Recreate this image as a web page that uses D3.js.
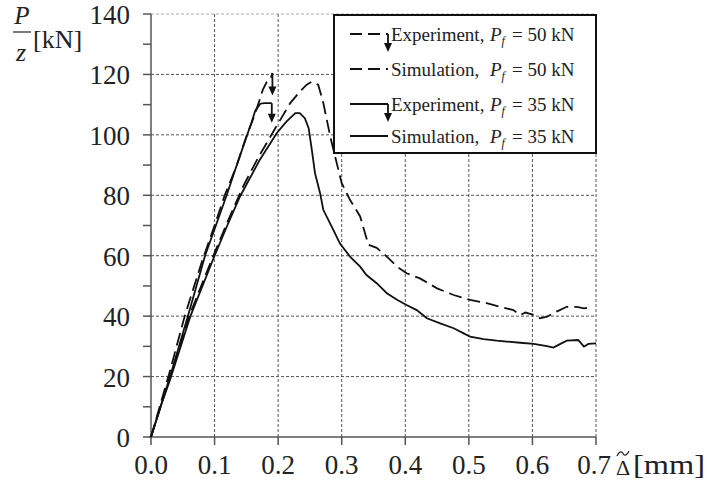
<!DOCTYPE html>
<html>
<head>
<meta charset="UTF-8">
<script src="https://d3js.org/d3.v7.min.js"></script>
<style>
  body { margin: 0; background: #fff; }
  svg { display: block; font-family: "Liberation Serif", "Times New Roman", serif; }
  .grid line { stroke: #555; stroke-width: 1; stroke-dasharray: 3,2; }
  .curve { fill: none; stroke: #111; stroke-width: 1.8; }
  .dashed { stroke-dasharray: 13,6; }
</style>
</head>
<body>
<svg width="707" height="496"></svg>
<script>
// --- data ---
const exp50X = [0, 0.015, 0.03, 0.053, 0.08, 0.1, 0.116, 0.135, 0.151, 0.162, 0.17, 0.176, 0.182, 0.188, 0.191];
const exp50Y = [0, 11, 22, 40, 58, 70, 80, 90, 100, 106, 111, 115, 117.5, 118.5, 120.5];

const exp35X = [0, 0.015, 0.03, 0.058, 0.085, 0.119, 0.135, 0.148, 0.158, 0.164, 0.172, 0.178, 0.19];
const exp35Y = [0, 10, 20, 40, 60, 80, 90, 98, 104, 108, 110.3, 110.5, 110.5];

const sim50X = [0, 0.015, 0.03, 0.06, 0.098, 0.12, 0.145, 0.17, 0.195, 0.219, 0.235, 0.245, 0.253, 0.263, 0.271, 0.282, 0.29, 0.3, 0.313, 0.329, 0.342, 0.355, 0.371, 0.387, 0.402, 0.423, 0.45, 0.476, 0.502, 0.528, 0.549, 0.57, 0.581, 0.589, 0.602, 0.612, 0.623, 0.638, 0.654, 0.67, 0.681, 0.691];
const sim50Y = [0, 10, 20, 40, 60, 71, 83, 93, 102, 110.5, 114.5, 116.6, 117.6, 116.6, 110.6, 99.4, 92.5, 84, 78.5, 73, 63.6, 62.6, 59.7, 56.4, 54.2, 52.5, 49.2, 47, 45.4, 44.3, 43.1, 42, 40.4, 41.2, 40.4, 39.3, 39.8, 41.5, 43.1, 43.1, 42.6, 42.9];

const sim35X = [0, 0.015, 0.03, 0.062, 0.1, 0.12, 0.14, 0.171, 0.198, 0.213, 0.227, 0.234, 0.242, 0.248, 0.253, 0.258, 0.266, 0.271, 0.287, 0.297, 0.313, 0.329, 0.339, 0.355, 0.371, 0.387, 0.402, 0.418, 0.434, 0.455, 0.476, 0.492, 0.502, 0.523, 0.544, 0.56, 0.581, 0.602, 0.623, 0.633, 0.641, 0.654, 0.672, 0.681, 0.688, 0.7];
const sim35Y = [0, 10, 19, 40, 60, 70, 79.6, 91.7, 100.6, 104.4, 107.2, 107.2, 105.5, 102.2, 95, 87.3, 80.7, 75.2, 68.5, 64.1, 59.7, 56.4, 53.6, 50.9, 47.6, 45.4, 43.7, 42, 39.3, 37.6, 36, 34.3, 33.2, 32.4, 31.9, 31.6, 31.2, 30.8, 30.1, 29.6, 30.5, 31.9, 32.1, 29.9, 30.8, 31];

// failure arrows at the end of the experiment curves: x, from, to
const arrowX = [0.191, 0.19];
const arrowFrom = [120.5, 110.5];
const arrowTo = [113, 104];

const xTicks = [0, 0.1, 0.2, 0.3, 0.4, 0.5, 0.6, 0.7];
const yTicks = [0, 20, 40, 60, 80, 100, 120, 140];
const yMinor = [0, 10, 20, 30, 40, 50, 60, 70, 80, 90, 100, 110, 120, 130, 140];

const legendLabels = ["Experiment,", "Simulation, ", "Experiment,", "Simulation, "];
const legendLoads = ["50", "50", "35", "35"];

// --- chart ---
const svg = d3.select("svg");
const x = d3.scaleLinear().domain([0, 0.7]).range([151, 596]);
const y = d3.scaleLinear().domain([0, 140]).range([437, 14]);

const grid = svg.append("g").attr("class", "grid");
grid.selectAll(".gx").data(xTicks.slice(1)).enter().append("line")
  .attr("x1", d => x(d)).attr("x2", d => x(d)).attr("y1", y(0)).attr("y2", y(140));
grid.selectAll(".gy").data(yTicks.slice(1)).enter().append("line")
  .attr("x1", x(0)).attr("x2", x(0.7)).attr("y1", d => y(d)).attr("y2", d => y(d))
  .style("stroke", d => d === 140 ? "#aaa" : null);

// axes
svg.append("line").attr("x1", x(0)).attr("x2", x(0)).attr("y1", y(0)).attr("y2", y(140))
  .attr("stroke", "#555").attr("stroke-width", 1.5);
svg.append("line").attr("x1", x(0) - 2).attr("x2", x(0.7)).attr("y1", y(0)).attr("y2", y(0))
  .attr("stroke", "#555").attr("stroke-width", 1.5);
svg.selectAll(".yt").data(yMinor).enter().append("line")
  .attr("x1", x(0) - 8).attr("x2", x(0)).attr("y1", d => y(d)).attr("y2", d => y(d))
  .attr("stroke", "#555").attr("stroke-width", 1.5);
svg.selectAll(".xt").data(xTicks).enter().append("line")
  .attr("x1", d => x(d)).attr("x2", d => x(d)).attr("y1", y(0)).attr("y2", y(0) + 8)
  .attr("stroke", "#555").attr("stroke-width", 1.5);

svg.selectAll(".yl").data(yTicks).enter().append("text")
  .attr("x", 130).attr("y", d => y(d) + 10)
  .attr("text-anchor", "end").attr("font-size", 27).attr("fill", "#222")
  .text(d => d);
svg.selectAll(".xl").data(xTicks).enter().append("text")
  .attr("x", d => x(d) - (d === 0.7 ? 2 : 0)).attr("y", 474)
  .attr("text-anchor", "middle").attr("font-size", 27).attr("fill", "#222")
  .text(d => d.toFixed(1));

// axis titles
const yt = svg.append("g").attr("fill", "#222");
yt.append("text").attr("x", 22).attr("y", 24).attr("text-anchor", "middle")
  .attr("font-size", 25).attr("font-style", "italic").text("P");
yt.append("line").attr("x1", 13).attr("x2", 31).attr("y1", 32).attr("y2", 32)
  .attr("stroke", "#222").attr("stroke-width", 1.2);
yt.append("text").attr("x", 21).attr("y", 61).attr("text-anchor", "middle")
  .attr("font-size", 26).attr("font-style", "italic").text("z");
yt.append("text").attr("x", 33).attr("y", 48).attr("font-size", 26).text("[kN]");

const xt = svg.append("g").attr("fill", "#222");
xt.append("text").attr("x", 623).attr("y", 475).attr("text-anchor", "middle")
  .attr("font-size", 22).text("Δ");
xt.append("path").attr("d", "M617,456 C619,451 622,451 623,453.5 C624,456 627,456 629,451")
  .attr("fill", "none").attr("stroke", "#222").attr("stroke-width", 1.2);
xt.append("text").attr("x", 633).attr("y", 474).attr("font-size", 28)
  .attr("textLength", 72).attr("lengthAdjust", "spacingAndGlyphs").text("[mm]");

// curves
const line = d3.line().x(d => x(d[0])).y(d => y(d[1]));
const series = [
  { xs: exp50X, ys: exp50Y, dashed: true },
  { xs: sim50X, ys: sim50Y, dashed: true },
  { xs: exp35X, ys: exp35Y, dashed: false },
  { xs: sim35X, ys: sim35Y, dashed: false }
];
series.forEach(s => {
  svg.append("path").attr("class", "curve" + (s.dashed ? " dashed" : ""))
    .attr("d", line(d3.zip(s.xs, s.ys)));
});

function arrow(px, y1, y2) {
  svg.append("line").attr("x1", px).attr("x2", px).attr("y1", y1).attr("y2", y2 - 7)
    .attr("stroke", "#111").attr("stroke-width", 1.8);
  svg.append("path").attr("d", `M${px - 4},${y2 - 9}L${px + 4},${y2 - 9}L${px},${y2}Z`)
    .attr("fill", "#111");
}
arrowX.forEach((ax, i) => arrow(x(ax), y(arrowFrom[i]), y(arrowTo[i])));

// legend
const lg = svg.append("g");
lg.append("rect").attr("x", 334).attr("y", 15).attr("width", 262).attr("height", 138)
  .attr("fill", "#fff").attr("stroke", "#111").attr("stroke-width", 2);
const rowLineY = [34, 69, 104, 136];
const rowTextY = [41, 76, 111, 143];
legendLabels.forEach((lab, i) => {
  const dashed = i < 2;
  lg.append("line").attr("x1", 350).attr("x2", 388).attr("y1", rowLineY[i]).attr("y2", rowLineY[i])
    .attr("stroke", "#111").attr("stroke-width", 1.8)
    .attr("stroke-dasharray", dashed ? "12,6" : null);
  if (i % 2 === 0) {
    lg.append("line").attr("x1", 388).attr("x2", 388).attr("y1", rowLineY[i]).attr("y2", rowLineY[i] + 10)
      .attr("stroke", "#111").attr("stroke-width", 1.8);
    lg.append("path").attr("d", `M384,${rowLineY[i] + 9}L392,${rowLineY[i] + 9}L388,${rowLineY[i] + 18}Z`)
      .attr("fill", "#111");
  }
  const t = lg.append("text").attr("y", rowTextY[i]).attr("font-size", 19).attr("fill", "#222");
  t.append("tspan").attr("x", 391).text(lab);
  t.append("tspan").attr("x", 490).attr("font-style", "italic").text("P");
  t.append("tspan").attr("font-style", "italic").attr("font-size", 12).attr("dy", 4).text("f");
  t.append("tspan").attr("x", 512).attr("dy", -4).text("= " + legendLoads[i] + " kN");
});
</script>
</body>
</html>
